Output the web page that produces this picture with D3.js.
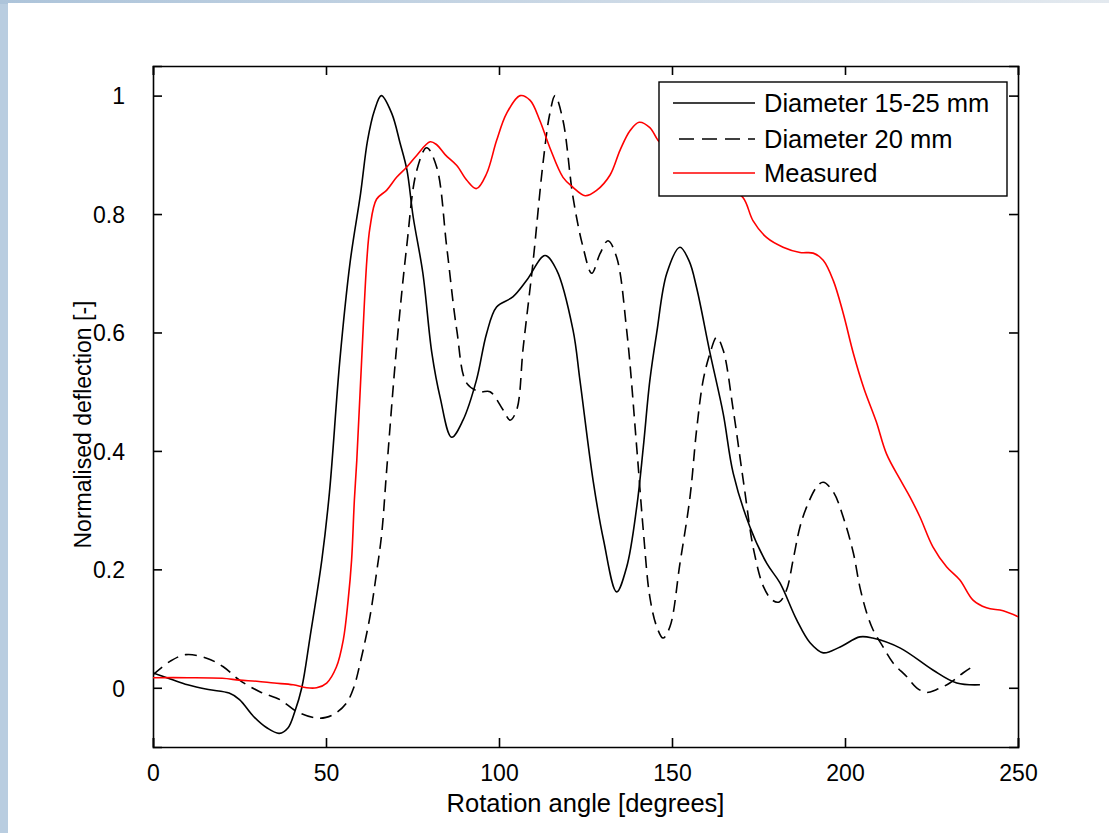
<!DOCTYPE html>
<html>
<head>
<meta charset="utf-8">
<script src="https://cdn.jsdelivr.net/npm/d3@7"></script>
<style>
  html, body { margin: 0; padding: 0; background: #b9cde0; }
  svg { display: block; }
  text { font-family: "Liberation Sans", Arial, Helvetica, sans-serif; fill: #000; }
</style>
</head>
<body>
<svg id="chart" width="1109" height="833"></svg>
<script>
// ---- Data ----
const xTicks = [0, 50, 100, 150, 200, 250];
const yTicks = [0, 0.2, 0.4, 0.6, 0.8, 1];
const yTickLabels = ["0", "0.2", "0.4", "0.6", "0.8", "1"];
const seriesNames = ["Diameter 15-25 mm", "Diameter 20 mm", "Measured"];

const diam1525X = [0, 5, 10, 16, 22, 25, 29, 33, 36.5, 39, 41, 43, 45.4, 48.8, 51, 54, 57, 60, 62, 64, 66, 69, 71.4, 73.4, 75.2, 78, 80.6, 83, 86.3, 89.6, 93.5, 96.4, 99.3, 104, 108, 113.3, 116.7, 121.4, 123.4, 127.2, 130.2, 134, 136.9, 139.8, 141.7, 143.6, 145.6, 148.5, 152.3, 155, 157.1, 161, 164.8, 167.7, 172.5, 177.4, 181.2, 186, 189.9, 193.7, 198.6, 204.3, 208, 216, 225.4, 232.3, 239];
const diam1525Y = [0.025, 0.015, 0.005, -0.003, -0.009, -0.02, -0.048, -0.068, -0.077, -0.068, -0.04, 0.0, 0.086, 0.216, 0.33, 0.553, 0.72, 0.835, 0.924, 0.975, 1.0, 0.97, 0.92, 0.874, 0.795, 0.70, 0.565, 0.49, 0.423, 0.452, 0.52, 0.598, 0.643, 0.66, 0.688, 0.73, 0.705, 0.604, 0.519, 0.35, 0.25, 0.162, 0.204, 0.305, 0.406, 0.519, 0.60, 0.70, 0.744, 0.72, 0.676, 0.565, 0.463, 0.362, 0.272, 0.21, 0.177, 0.115, 0.076, 0.059, 0.069, 0.086, 0.084, 0.067, 0.03, 0.008, 0.005];

const diam20X = [0, 5, 9.5, 15.5, 20.2, 25, 31, 36.7, 41.5, 47, 50, 53, 56, 58, 60, 62.7, 64.6, 66.1, 67.5, 70.4, 73.3, 76.2, 79.1, 82, 84.9, 87.8, 90.7, 94.5, 97.4, 101.2, 103.2, 105.1, 107, 109.8, 112.7, 114.7, 116.2, 118.5, 121.4, 124.3, 126.8, 129.2, 131.5, 134, 136.9, 139.8, 141.7, 143.6, 145.6, 147.4, 149.4, 152.3, 155.2, 157.1, 159, 161, 162.9, 164.8, 167.7, 170.7, 173.6, 176.5, 179, 181, 183.1, 185, 187, 188.9, 191.8, 193.7, 196.6, 199.5, 202.4, 204.3, 206.3, 208.1, 211, 213.9, 217.8, 220.7, 223.6, 226.5, 230.3, 234.1, 237.5];
const diam20Y = [0.022, 0.045, 0.056, 0.05, 0.036, 0.013, -0.007, -0.02, -0.04, -0.051, -0.05, -0.042, -0.025, 0.0, 0.045, 0.12, 0.194, 0.26, 0.365, 0.575, 0.744, 0.873, 0.912, 0.879, 0.744, 0.604, 0.514, 0.50, 0.50, 0.469, 0.452, 0.469, 0.575, 0.717, 0.885, 0.97, 1.0, 0.958, 0.828, 0.744, 0.70, 0.733, 0.755, 0.727, 0.604, 0.406, 0.266, 0.153, 0.103, 0.084, 0.103, 0.21, 0.322, 0.435, 0.519, 0.565, 0.592, 0.57, 0.469, 0.346, 0.233, 0.17, 0.148, 0.145, 0.165, 0.216, 0.272, 0.305, 0.339, 0.347, 0.331, 0.288, 0.228, 0.17, 0.126, 0.098, 0.069, 0.042, 0.019, 0.0, -0.008, -0.003, 0.008, 0.025, 0.038];

const measuredX = [0, 10, 20, 25, 30, 35, 40.5, 44.4, 47.3, 50.2, 53, 55, 56.4, 57.4, 58.2, 58.9, 60.3, 61.8, 62.7, 64.6, 67.5, 70.4, 73.3, 76.2, 80.1, 82, 84.5, 87.8, 90.7, 93.5, 96.4, 99.3, 102.2, 106.1, 109, 111.8, 114.7, 118.5, 121.4, 124.9, 128.2, 132.1, 135, 137.9, 140.5, 143.6, 146, 150, 155, 160, 165, 170.5, 173.4, 177.4, 182.1, 187, 190.8, 193.7, 196.6, 199.5, 202.4, 205.5, 209, 212, 216, 218.8, 221.7, 225.4, 229.4, 233.2, 237, 240.9, 245.7, 250];
const measuredY = [0.017, 0.017, 0.016, 0.013, 0.011, 0.008, 0.005, 0.0, 0.0, 0.008, 0.035, 0.081, 0.148, 0.216, 0.317, 0.384, 0.553, 0.722, 0.777, 0.825, 0.84, 0.862, 0.879, 0.899, 0.922, 0.917, 0.9, 0.882, 0.857, 0.843, 0.868, 0.924, 0.97, 1.0, 0.992, 0.958, 0.912, 0.862, 0.845, 0.831, 0.84, 0.866, 0.908, 0.941, 0.955, 0.946, 0.924, 0.9, 0.88, 0.865, 0.85, 0.828, 0.789, 0.76, 0.744, 0.735, 0.734, 0.722, 0.688, 0.632, 0.565, 0.505, 0.45, 0.395, 0.351, 0.322, 0.288, 0.238, 0.204, 0.182, 0.148, 0.135, 0.13, 0.12];

// ---- Layout ----
const W = 1109, H = 833;
const pL = 153, pR = 1018, pT = 66, pB = 747;

const svg = d3.select("#chart");

const defs = svg.append("defs");
const grad = defs.append("linearGradient").attr("id", "topgrad").attr("x1", 0).attr("x2", 1).attr("y1", 0).attr("y2", 0);
grad.append("stop").attr("offset", "0%").attr("stop-color", "#adc4da");
grad.append("stop").attr("offset", "60%").attr("stop-color", "#cfdbe7");
grad.append("stop").attr("offset", "100%").attr("stop-color", "#e3e9ef");
svg.append("rect").attr("x", 0).attr("y", 0).attr("width", W).attr("height", H).attr("fill", "#b9cde0");
svg.append("rect").attr("x", 0).attr("y", 0).attr("width", W).attr("height", 4).attr("fill", "url(#topgrad)");
svg.append("rect").attr("x", 8).attr("y", 3).attr("width", W - 8).attr("height", H - 3).attr("fill", "#ffffff");

const x = d3.scaleLinear().domain([0, 250]).range([pL, pR]);
const y = d3.scaleLinear().domain([-0.1, 1.05]).range([pB, pT]);

const tickFont = 23;
const legendFont = 25.5;
const xLabelFont = 25.5;
const yLabelFont = 23;
const tickLen = 9;

const g = svg.append("g");

const xAxisB = d3.axisBottom(x).tickValues(xTicks).tickSize(-tickLen).tickPadding(18).tickFormat(d3.format("d"));
const gxb = g.append("g").attr("transform", `translate(0,${pB})`).call(xAxisB);
const xAxisT = d3.axisTop(x).tickValues(xTicks).tickSize(-tickLen).tickFormat("");
const gxt = g.append("g").attr("transform", `translate(0,${pT})`).call(xAxisT);
const yAxisL = d3.axisLeft(y).tickValues(yTicks).tickSize(-tickLen).tickPadding(28)
  .tickFormat((d, i) => yTickLabels[i]);
const gyl = g.append("g").attr("transform", `translate(${pL},0)`).call(yAxisL);
const yAxisR = d3.axisRight(y).tickValues(yTicks).tickSize(-tickLen).tickFormat("");
const gyr = g.append("g").attr("transform", `translate(${pR},0)`).call(yAxisR);

[gxb, gxt, gyl, gyr].forEach(a => {
  a.select(".domain").attr("stroke", "#000").attr("stroke-width", 1.6);
  a.selectAll(".tick line").attr("stroke", "#000").attr("stroke-width", 1.6);
  a.selectAll(".tick text").attr("font-size", tickFont).attr("fill", "#000")
    .attr("font-family", '"Liberation Sans", Arial, sans-serif');
});
gyl.selectAll(".tick text").attr("dy", "0.36em");

svg.append("text")
  .attr("x", (pL + pR) / 2).attr("y", 812)
  .attr("text-anchor", "middle").attr("font-size", xLabelFont)
  .text("Rotation angle [degrees]");
svg.append("text")
  .attr("transform", `translate(91,${(pT + pB) / 2 + 18}) rotate(-90)`)
  .attr("text-anchor", "middle").attr("font-size", yLabelFont)
  .text("Normalised deflection [-]");

defs.append("clipPath").attr("id", "plotclip").append("rect")
  .attr("x", pL).attr("y", pT).attr("width", pR - pL).attr("height", pB - pT);

const line = d3.line().x(d => x(d[0])).y(d => y(d[1])).curve(d3.curveCatmullRom.alpha(0.5));
const zip = (xs, ys) => xs.map((v, i) => [v, ys[i]]);

const series = [
  { name: seriesNames[0], pts: zip(diam1525X, diam1525Y), color: "#000", dash: null },
  { name: seriesNames[1], pts: zip(diam20X, diam20Y), color: "#000", dash: "12,7" },
  { name: seriesNames[2], pts: zip(measuredX, measuredY), color: "#ff0000", dash: null }
];

const plot = svg.append("g").attr("clip-path", "url(#plotclip)");
series.forEach(s => {
  plot.append("path").datum(s.pts)
    .attr("d", line)
    .attr("fill", "none")
    .attr("stroke", s.color)
    .attr("stroke-width", 1.6)
    .attr("stroke-dasharray", s.dash);
});

const lg = svg.append("g");
lg.append("rect").attr("x", 659).attr("y", 82).attr("width", 348).attr("height", 114)
  .attr("fill", "#fff").attr("stroke", "#000").attr("stroke-width", 1.4);
const rowY = [103, 139, 173];
series.forEach((s, i) => {
  lg.append("line").attr("x1", 673).attr("x2", 755).attr("y1", rowY[i]).attr("y2", rowY[i])
    .attr("stroke", s.color).attr("stroke-width", 1.6)
    .attr("stroke-dasharray", s.dash ? "15,8" : null)
    .attr("stroke-dashoffset", s.dash ? -6 : 0);
  lg.append("text").attr("x", 764).attr("y", rowY[i]).attr("dy", "0.36em")
    .attr("font-size", legendFont).text(s.name);
});
</script>
</body>
</html>
